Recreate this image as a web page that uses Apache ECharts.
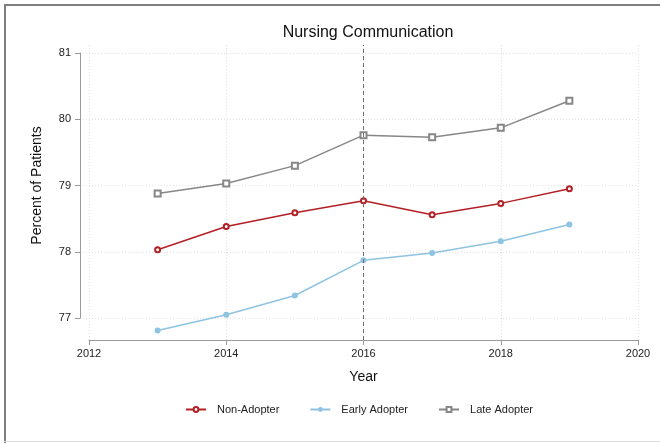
<!DOCTYPE html>
<html>
<head>
<meta charset="utf-8">
<title>Nursing Communication</title>
<script src="https://cdn.jsdelivr.net/npm/echarts@6/dist/echarts.min.js"></script>
<style>
  html, body { margin: 0; padding: 0; background: #ffffff; }
  #chart { width: 660px; height: 443px; }
</style>
</head>
<body>
<div id="chart"></div>
<script>
// Survey years and mean scores by adopter group
const years = [2013, 2014, 2015, 2016, 2017, 2018, 2019];
const nonAdopter = [78.03, 78.38, 78.59, 78.77, 78.56, 78.73, 78.95];
const earlyAdopter = [76.81, 77.05, 77.34, 77.87, 77.98, 78.16, 78.41];
const lateAdopter = [78.88, 79.03, 79.30, 79.76, 79.73, 79.87, 80.28];

const xTicks = [2012, 2014, 2016, 2018, 2020];
const yTicks = [77, 78, 79, 80, 81];

const FONT = '"Liberation Sans", Arial, Helvetica, sans-serif';

// Plot area spans y 45..340; the labelled y axis covers 77..81 (y 53..318)
const pxPerUnit = (318 - 53) / (yTicks[yTicks.length - 1] - yTicks[0]);
const yMin = yTicks[0] - (340 - 318) / pxPerUnit;
const yMax = yTicks[yTicks.length - 1] + (53 - 45) / pxPerUnit;

const pairs = vals => years.map((y, i) => [y, vals[i]]);

const chart = echarts.init(document.getElementById('chart'), null, { renderer: 'canvas' });

chart.setOption({
  animation: false,
  backgroundColor: '#ffffff',
  textStyle: { fontFamily: FONT },
  title: {
    text: 'Nursing Communication',
    left: 363,
    top: 20,
    textAlign: 'center',
    textStyle: { fontFamily: FONT, fontSize: 16, fontWeight: 'normal', color: '#111' }
  },
  graphic: [
    { type: 'rect', silent: true, shape: { x: 4, y: 4, width: 656, height: 2 }, style: { fill: '#7f7f7f' } },
    { type: 'rect', silent: true, shape: { x: 4, y: 4, width: 2, height: 439 }, style: { fill: '#7f7f7f' } },
    { type: 'rect', silent: true, shape: { x: 4, y: 441, width: 656, height: 1 }, style: { fill: '#dcdcdc' } }
  ],
  legend: {
    left: 185,
    top: 404,
    padding: 0,
    itemWidth: 20,
    itemHeight: 6,
    itemGap: 30,
    textStyle: { fontFamily: FONT, fontSize: 11, color: '#222', padding: [0, 0, 0, 6] },
    data: ['Non-Adopter', 'Early Adopter', 'Late Adopter']
  },
  grid: [
    { left: 89, right: 22, top: 45, bottom: 103 },
    { left: 80, right: 22, top: 53, bottom: 125 }
  ],
  xAxis: [
    {
      gridIndex: 0,
      type: 'value',
      min: xTicks[0],
      max: xTicks[xTicks.length - 1],
      interval: 2,
      name: 'Year',
      nameLocation: 'middle',
      nameGap: 30,
      nameTextStyle: { fontFamily: FONT, fontSize: 14, color: '#111' },
      axisLine: { show: true, lineStyle: { color: '#9a9a9a', width: 1 } },
      axisTick: { show: true, inside: false, length: 5, lineStyle: { color: '#9a9a9a' } },
      axisLabel: { fontFamily: FONT, fontSize: 11, color: '#222', margin: 8, formatter: v => String(v) },
      splitLine: { show: true, lineStyle: { color: '#e2e2e2', type: [1, 2], width: 1 } }
    },
    { gridIndex: 1, type: 'value', min: 0, max: 1, show: false }
  ],
  yAxis: [
    { gridIndex: 0, type: 'value', min: yMin, max: yMax, show: false, splitLine: { show: false } },
    {
      gridIndex: 1,
      type: 'value',
      min: yTicks[0],
      max: yTicks[yTicks.length - 1],
      interval: 1,
      name: 'Percent of Patients',
      nameLocation: 'middle',
      nameGap: 36,
      nameRotate: 90,
      nameTextStyle: { fontFamily: FONT, fontSize: 14, color: '#111' },
      axisLine: { show: true, lineStyle: { color: '#9a9a9a', width: 1 } },
      axisTick: { show: true, inside: false, length: 5, lineStyle: { color: '#9a9a9a' } },
      axisLabel: { fontFamily: FONT, fontSize: 11, color: '#222', margin: 9 },
      splitLine: { show: true, lineStyle: { color: '#e2e2e2', type: [1, 2], width: 1 } }
    }
  ],
  series: [
    {
      name: 'Non-Adopter',
      type: 'line',
      xAxisIndex: 0,
      yAxisIndex: 0,
      data: pairs(nonAdopter),
      symbol: 'emptyCircle',
      symbolSize: 5,
      lineStyle: { color: '#b41f24', width: 1.5 },
      itemStyle: { color: '#b41f24', borderColor: '#b41f24', borderWidth: 1.5 },
      z: 4,
      markLine: {
        silent: true,
        symbol: 'none',
        label: { show: false },
        lineStyle: { color: '#707070', type: [4, 3], width: 1 },
        data: [{ xAxis: 2016 }]
      }
    },
    {
      name: 'Early Adopter',
      type: 'line',
      xAxisIndex: 0,
      yAxisIndex: 0,
      data: pairs(earlyAdopter),
      symbol: 'circle',
      symbolSize: 6,
      lineStyle: { color: '#8ec3e2', width: 1.5 },
      itemStyle: { color: '#8ec3e2' },
      z: 3
    },
    {
      name: 'Late Adopter',
      type: 'line',
      xAxisIndex: 0,
      yAxisIndex: 0,
      data: pairs(lateAdopter),
      symbol: 'emptyRect',
      symbolSize: 6,
      lineStyle: { color: '#878787', width: 1.5 },
      itemStyle: { color: '#878787', borderColor: '#878787', borderWidth: 1.5 },
      z: 3
    }
  ]
});
</script>
</body>
</html>
